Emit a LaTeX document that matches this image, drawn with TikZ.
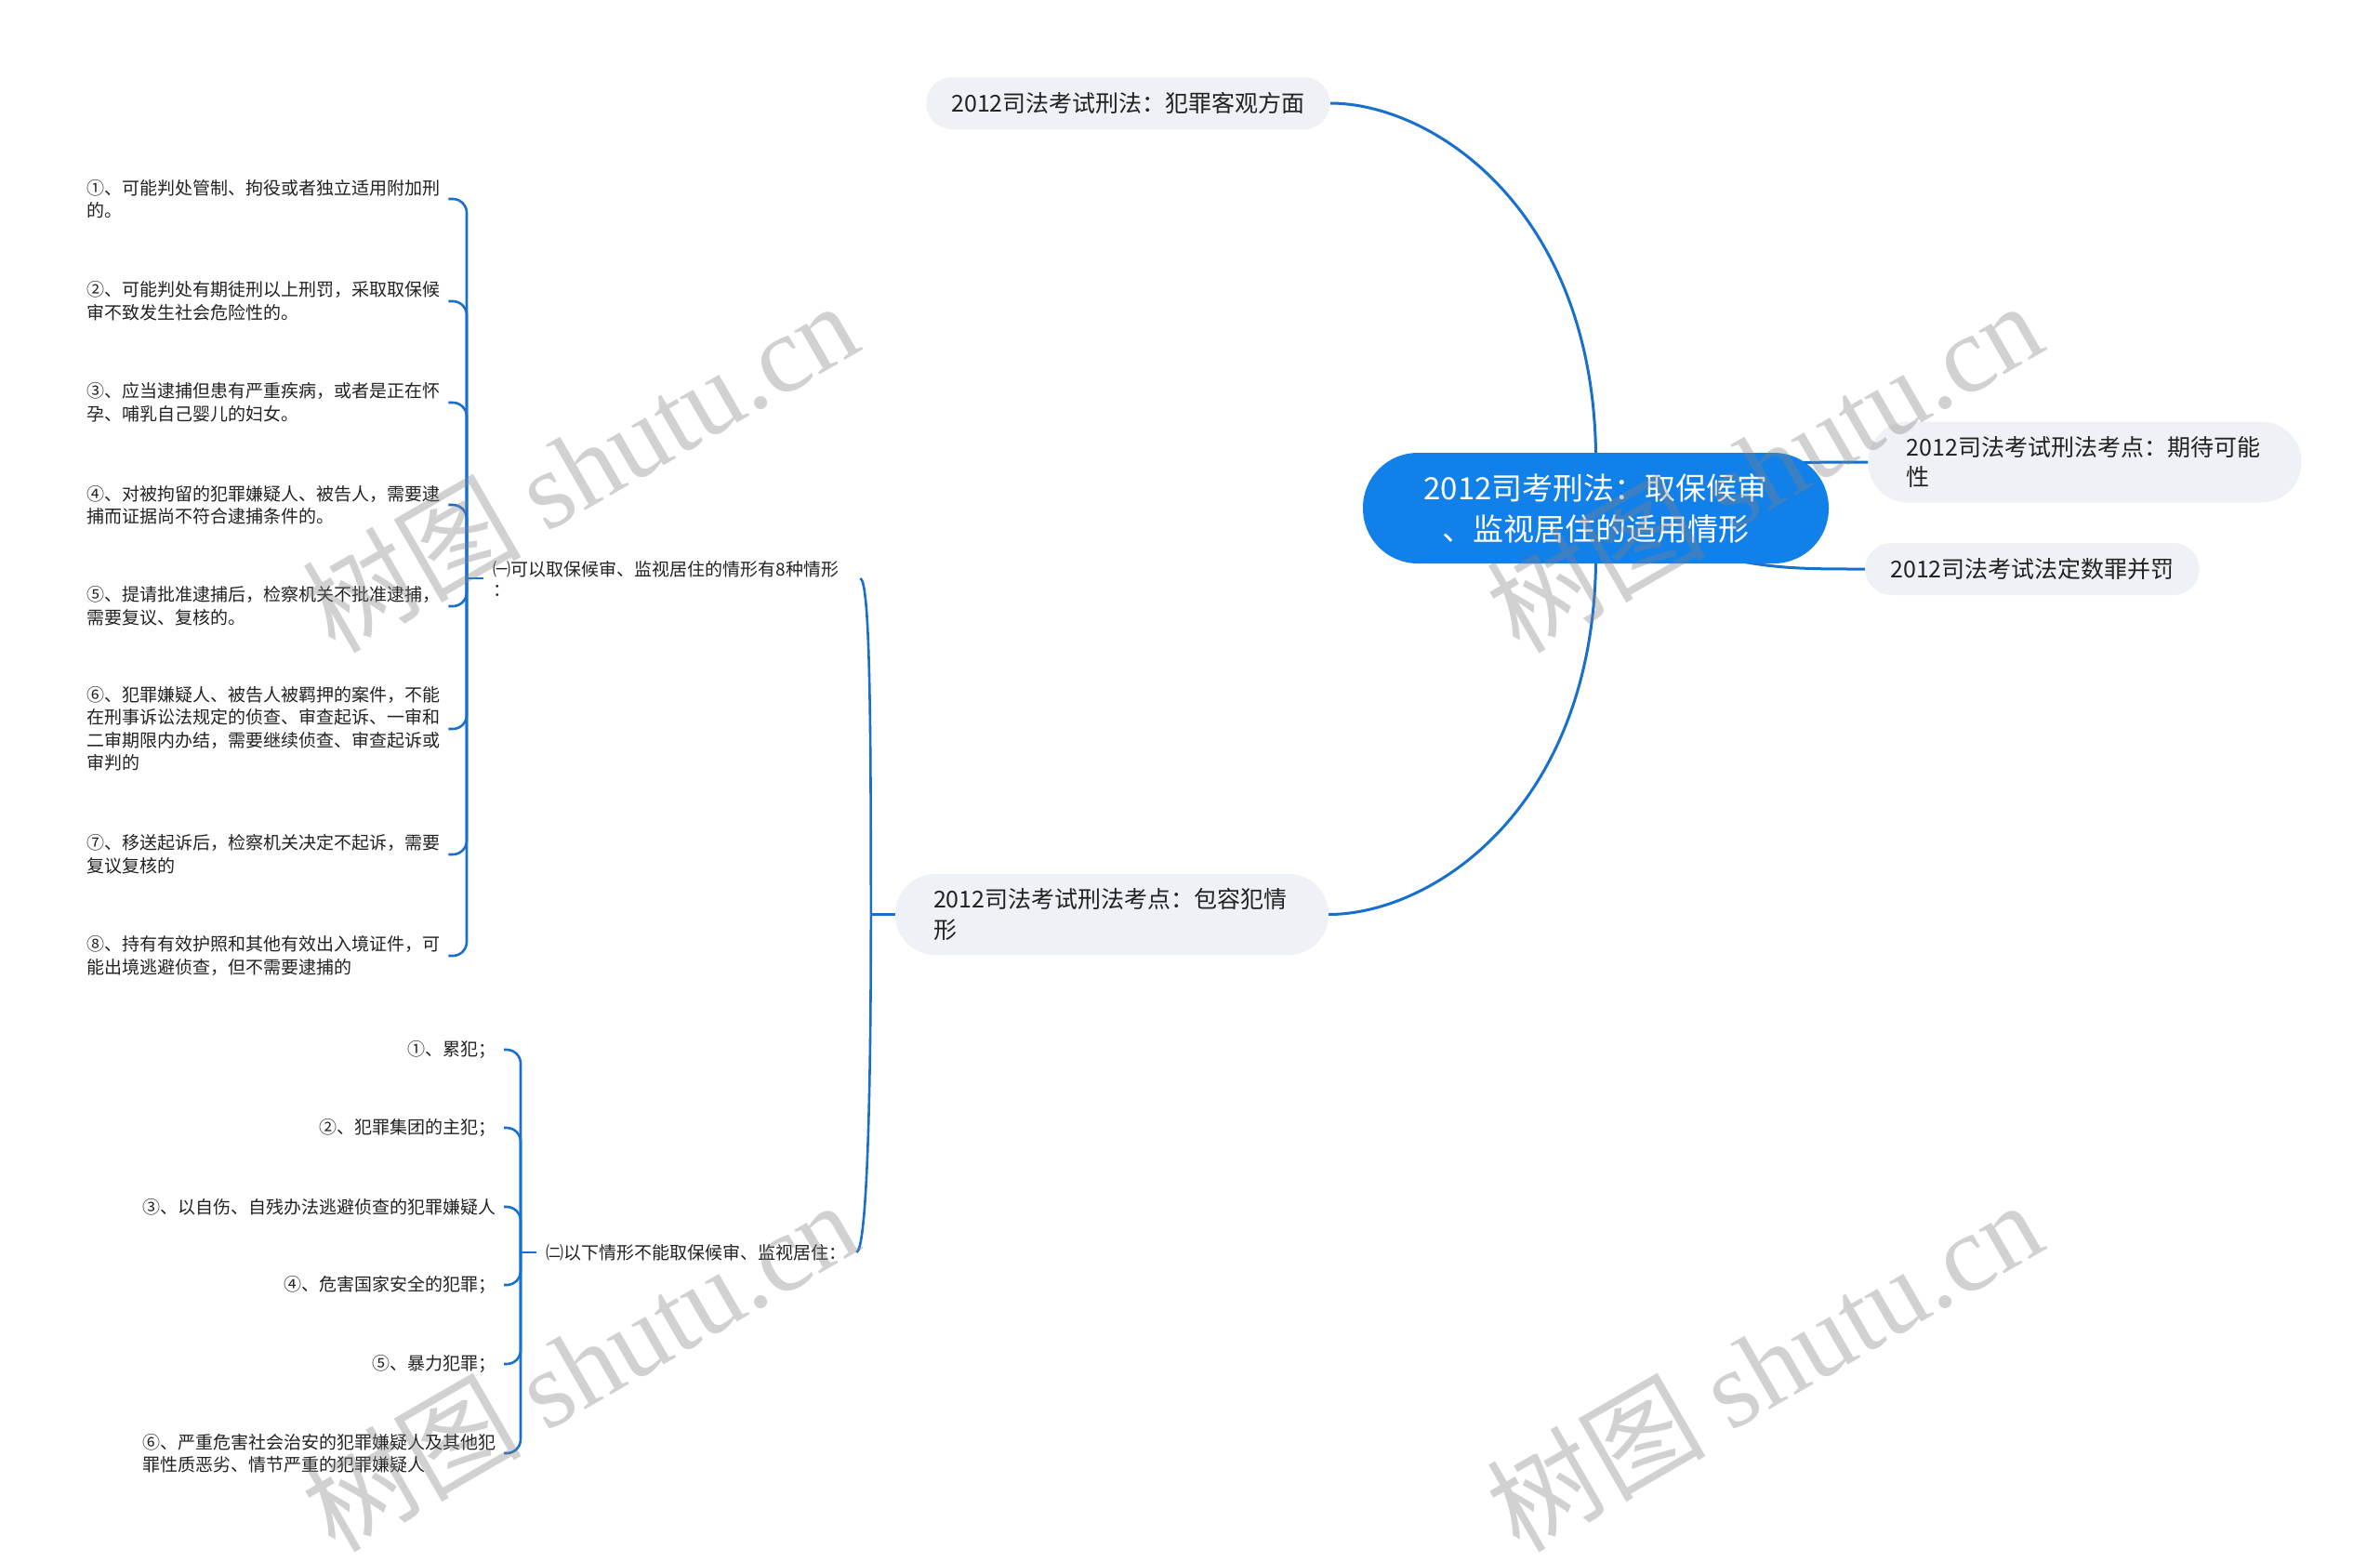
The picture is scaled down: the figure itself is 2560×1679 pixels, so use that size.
\documentclass[tikz,border=0pt]{standalone}
\usepackage{fontspec}
\setmainfont{Noto Sans CJK SC}
\newfontfamily\wmlatin{Liberation Serif}
\usetikzlibrary{backgrounds,calc}
\definecolor{linkblue}{RGB}{24,112,204}
\definecolor{rootblue}{RGB}{18,128,233}
\definecolor{pillgray}{RGB}{238,241,245}
\definecolor{txtgray}{RGB}{34,34,34}
\definecolor{wmgray}{RGB}{130,130,130}
\begin{document}
\begin{tikzpicture}[x=1pt,y=-1pt,
  link/.style={draw=linkblue,line width=3pt},
  brk/.style={draw=linkblue,line width=2.6pt,rounded corners=15pt},
  tick/.style={draw=linkblue,line width=2.6pt},
  pillone/.style={fill=pillgray,text=txtgray,rounded corners=28pt,minimum height=56pt,inner xsep=27pt,inner ysep=0pt,font=\fontsize{25}{33}\selectfont},
  pilltwo/.style={fill=pillgray,text=txtgray,rounded corners=43pt,minimum height=87pt,text width=384pt,inner xsep=41pt,inner ysep=0pt,align=left,font=\fontsize{25}{32.5}\selectfont},
  rootnode/.style={fill=rootblue,text=white,rounded corners=59pt,minimum width=501pt,minimum height=119pt,align=center,inner sep=0pt,font=\fontsize{33}{44}\selectfont},
  subnode/.style={anchor=west,align=left,text=txtgray,inner xsep=10.5pt,inner ysep=2pt,font=\fontsize{19}{22}\selectfont},
  leafl/.style={anchor=west,align=left,text width=380pt,text=txtgray,inner xsep=9pt,inner ysep=2pt,font=\fontsize{19}{24.5}\selectfont},
  leafr/.style={anchor=east,align=left,text=txtgray,inner xsep=8pt,inner ysep=2pt,font=\fontsize{19}{24.5}\selectfont},
  wmark/.style={rotate=30,anchor=base west,inner sep=0pt,text=wmgray,opacity=0.36,font=\fontsize{118}{118}\selectfont}
]
\useasboundingbox (0,0) rectangle (2560,1679);

% main nodes
\node[rootnode] (root) at (1716.5,546.5) {2012司考刑法：取保候审\\、监视居住的适用情形};
\node[pillone] (A) at (1213.5,111) {2012司法考试刑法：犯罪客观方面};
\node[pilltwo] (B) at (2242.5,497) {2012司法考试刑法考点：期待可能\\性};
\node[pillone] (C) at (2186,612) {2012司法考试法定数罪并罚};
\node[pilltwo] (D) at (1196,983.5) {2012司法考试刑法考点：包容犯情\\形};

% sub nodes
\node[subnode,text width=384pt] (E) at (520,622) {㈠可以取保候审、监视居住的情形有8种情形\\：};
\node[subnode] (F) at (577,1347) {㈡以下情形不能取保候审、监视居住：};

% leaves of E
\node[leafl] (L1) at (84,214) {①、可能判处管制、拘役或者独立适用附加刑\\的。};
\node[leafl] (L2) at (84,324) {②、可能判处有期徒刑以上刑罚，采取取保候\\审不致发生社会危险性的。};
\node[leafl] (L3) at (84,433) {③、应当逮捕但患有严重疾病，或者是正在怀\\孕、哺乳自己婴儿的妇女。};
\node[leafl] (L4) at (84,543) {④、对被拘留的犯罪嫌疑人、被告人，需要逮\\捕而证据尚不符合逮捕条件的。};
\node[leafl] (L5) at (84,652) {⑤、提请批准逮捕后，检察机关不批准逮捕，\\需要复议、复核的。};
\node[leafl] (L6) at (84,784) {⑥、犯罪嫌疑人、被告人被羁押的案件，不能\\在刑事诉讼法规定的侦查、审查起诉、一审和\\二审期限内办结，需要继续侦查、审查起诉或\\审判的};
\node[leafl] (L7) at (84,919) {⑦、移送起诉后，检察机关决定不起诉，需要\\复议复核的};
\node[leafl] (L8) at (84,1028) {⑧、持有有效护照和其他有效出入境证件，可\\能出境逃避侦查，但不需要逮捕的};

% leaves of F
\node[leafr] (R1) at (542,1129) {①、累犯；};
\node[leafr] (R2) at (542,1213) {②、犯罪集团的主犯；};
\node[leafr] (R3) at (542,1298) {③、以自伤、自残办法逃避侦查的犯罪嫌疑人};
\node[leafr] (R4) at (542,1382) {④、危害国家安全的犯罪；};
\node[leafr] (R5) at (542,1467) {⑤、暴力犯罪；};
\node[leafr] (R6) at (542,1563) {⑥、严重危害社会治安的犯罪嫌疑人及其他犯\\罪性质恶劣、情节严重的犯罪嫌疑人};

\coordinate (jD) at ($(D.west)+(-26,0)$);
\coordinate (jE) at ($(E.west)+(-18,0)$);
\coordinate (jF) at ($(F.west)+(-17,0)$);

\begin{pgfonlayer}{background}
\fill[white] (0,0) rectangle (2560,1679);
% root links
\draw[link] (A.east) .. controls ($(A.east)+(110,0)$) and ($(root.north)+(-4,-262)$) .. (root.north);
\draw[link] (root.south) .. controls ($(root.south)+(-4,264)$) and ($(D.east)+(111,0)$) .. (D.east);
\draw[link] ($(root.center)+(165,-49)$) .. controls ($(root.center)+(225,-49)$) and ($(B.west)+(-30,0)$) .. (B.west);
\draw[link] ($(root.center)+(74,34)$) .. controls ($(root.center)+(164,66)$) and ($(C.west)+(-80,0)$) .. (C.west);
% D bracket
\draw[tick] (jD) -- (D.west);
\draw[tick] (E.east) .. controls ($(E.east)+(10,4)$) and ($(jD)+(0,-224)$) .. (jD);
\draw[tick] (F.east) .. controls ($(F.east)+(10,-4)$) and ($(jD)+(0,224)$) .. (jD);
% E bracket
\draw[tick] (jE) -- (E.west);
\foreach \n in {L1,L2,L3,L4,L5,L6,L7,L8}{
  \draw[brk] (jE) -- (jE |- \n.east) -- (\n.east);
}
% F bracket
\draw[tick] (jF) -- (F.west);
\foreach \n in {R1,R2,R3,R4,R5,R6}{
  \draw[brk] (jF) -- (jF |- \n.east) -- (\n.east);
}
\end{pgfonlayer}

% watermarks
\begin{scope}
\clip (0,0) rectangle (2560,1679);
\node[wmark] (w1) at (360,705) {树图 {\wmlatin shutu.cn}};
\node[wmark] (w2) at (1634,705) {树图 {\wmlatin shutu.cn}};
\node[wmark] (w3) at (360,1672) {树图 {\wmlatin shutu.cn}};
\node[wmark] (w4) at (1634,1672) {树图 {\wmlatin shutu.cn}};
\end{scope}
\end{tikzpicture}
\end{document}
